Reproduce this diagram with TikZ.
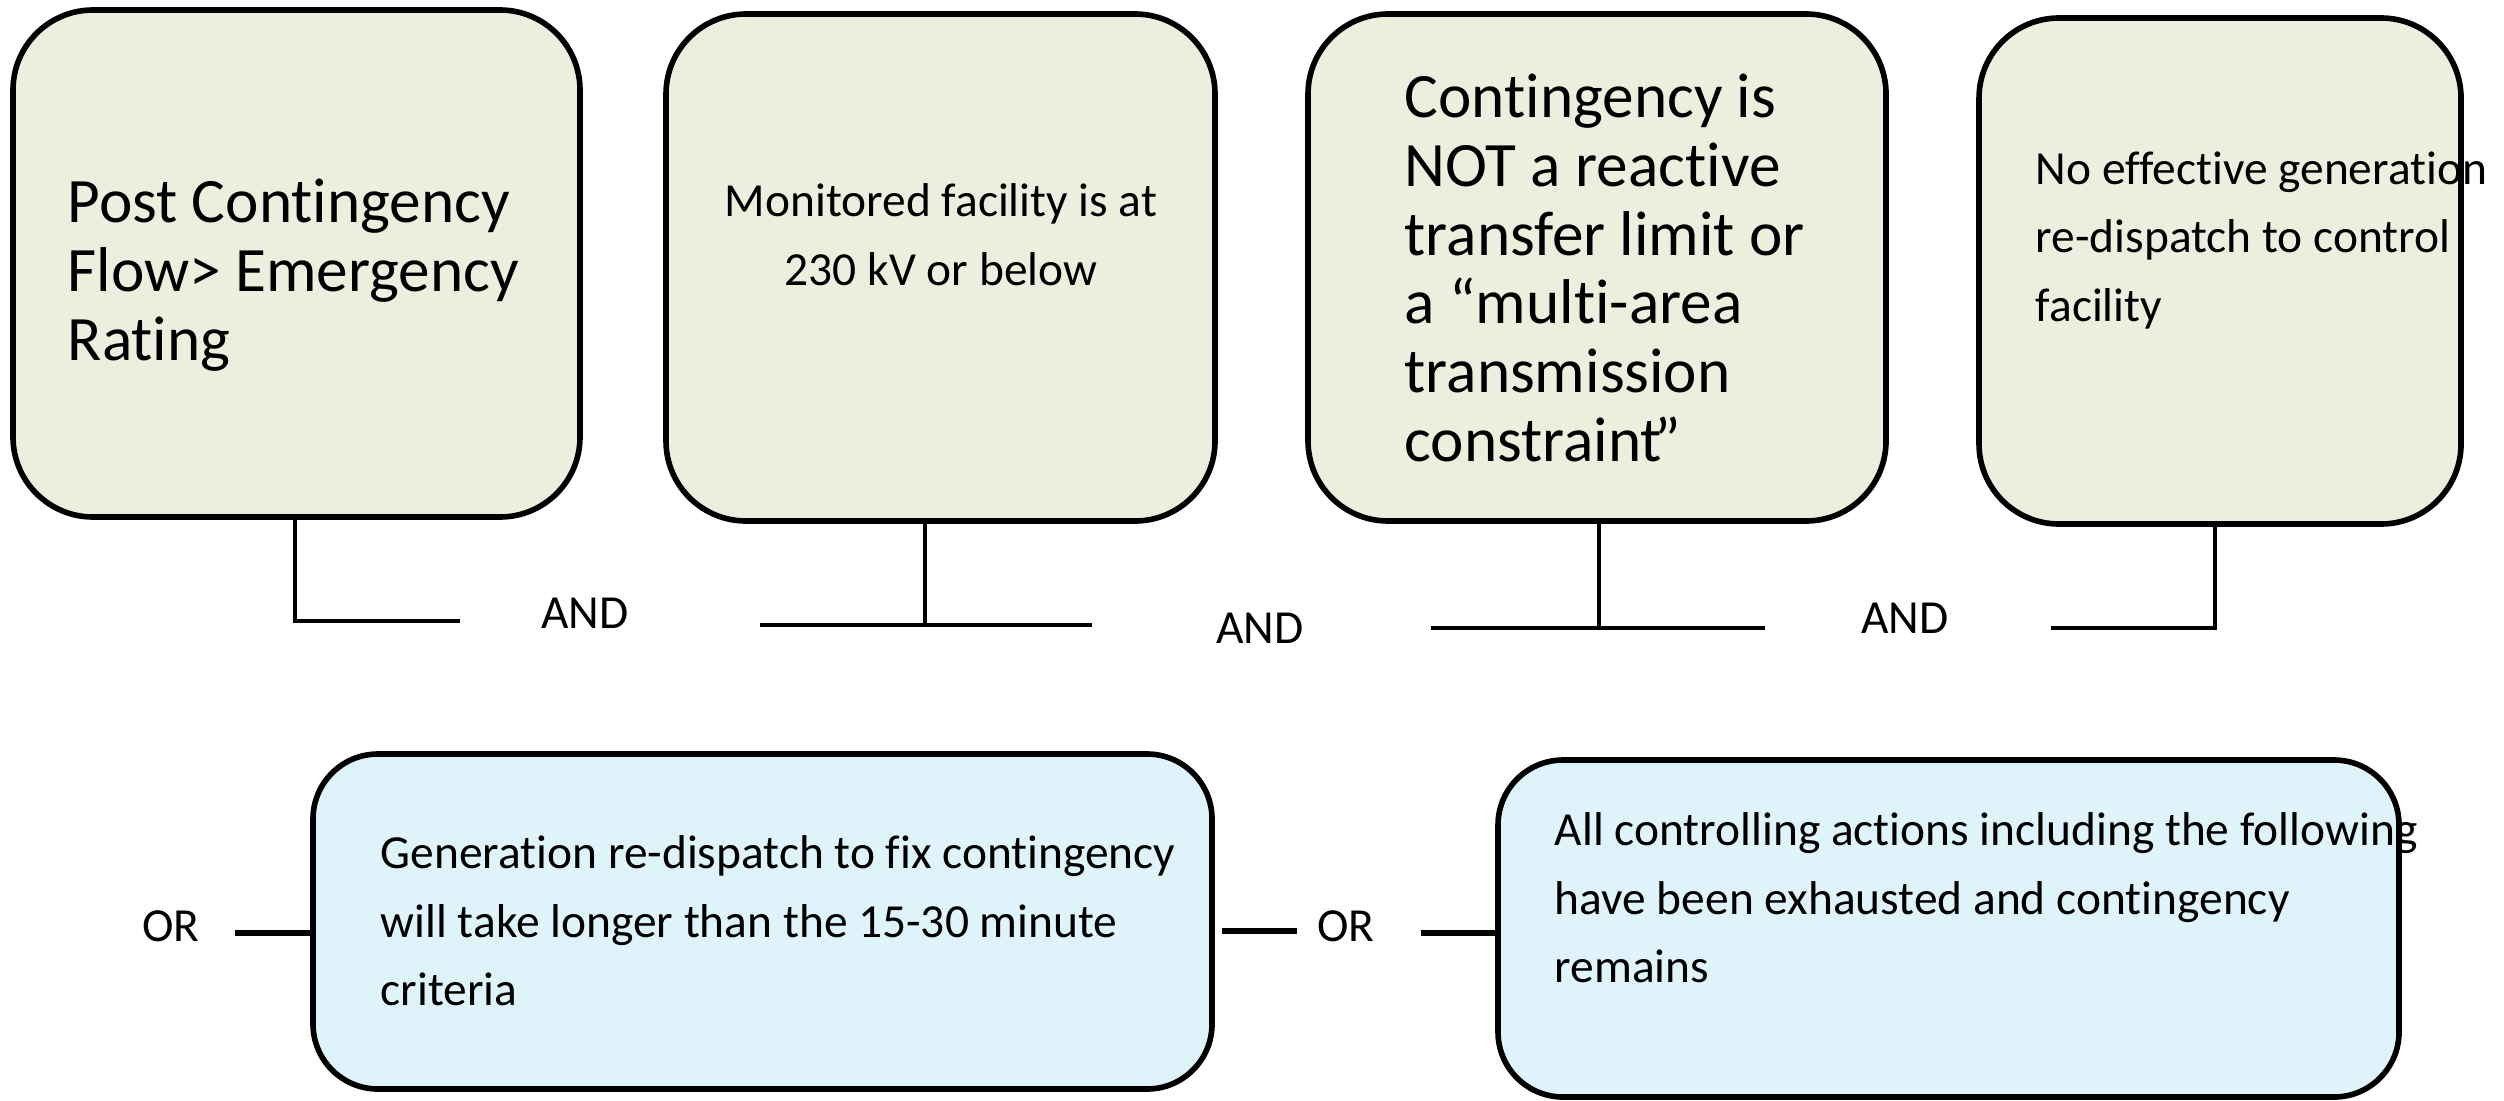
\documentclass[tikz,border=0pt]{standalone}
\usepackage{fontspec}
\setmainfont{Carlito}[Ligatures={TeX,NoCommon}, RawFeature={-calt;-clig;-liga}]
\usepackage{tikz}
\usetikzlibrary{positioning, calc}
\usepackage{xcolor}
\definecolor{condbg}{RGB}{235,240,222}
\definecolor{actbg}{RGB}{223,243,250}

\begin{document}
\begin{tikzpicture}[
        x=1cm, y=1cm,
        condbox/.style={draw, line width=1.6pt, rounded corners=0.8cm,
                        fill=condbg, inner sep=0pt},
        actbox/.style={draw, line width=1.6pt, rounded corners=0.65cm,
                       fill=actbg, inner sep=0pt},
        bigtxt/.style={inner sep=0pt, align=left, anchor=north west,
                       font=\fontsize{18}{19.6}\selectfont},
        smalltxt/.style={inner sep=0pt, align=left, anchor=north west,
                         font=\fontsize{13.5}{19.5}\selectfont},
        gate/.style={inner sep=0pt, font=\fontsize{13.5}{16}\selectfont},
        wire/.style={line width=1.2pt},
        orwire/.style={line width=1.5pt},
    ]

    \useasboundingbox (0,0) rectangle (25.04,-11.00);

    % ---------- Conditions (all must hold) --------------------------------
    \node[condbox, minimum width=5.67cm, minimum height=5.07cm] (flow)       at ( 2.965,-2.635) {};
    \node[condbox, minimum width=5.49cm, minimum height=5.07cm] (voltage)    at ( 9.405,-2.675) {};
    \node[condbox, minimum width=5.78cm, minimum height=5.07cm] (reactive)   at (15.970,-2.675) {};
    \node[condbox, minimum width=4.82cm, minimum height=5.06cm] (redispatch) at (22.200,-2.710) {};

    \node[bigtxt] (flowtxt) at (0.67,-1.78) {Post Contingency\\Flow> Emergency\\Rating};
    \node[smalltxt, anchor=north, align=center] (voltagetxt) at (9.41,-1.83)
        {Monitored facility is at\\230 kV or below};
    \node[bigtxt] (reactivetxt) at (14.04,-0.73)
        {Contingency is\\NOT a reactive\\transfer limit or\\a “multi-area\\transmission\\constraint\kern-0.12em”};
    \node[smalltxt] (redispatchtxt) at (20.35,-1.51)
        {No effective generation\\re-dispatch to control\\facility};

    % ---------- AND joins --------------------------------------------------
    \coordinate (j1)  at ( 2.95,-6.21);
    \coordinate (j1r) at ( 4.60,-6.21);
    \coordinate (j2l) at ( 7.60,-6.25);
    \coordinate (j2)  at ( 9.25,-6.25);
    \coordinate (j2r) at (10.92,-6.25);
    \coordinate (j3l) at (14.31,-6.28);
    \coordinate (j3)  at (15.99,-6.28);
    \coordinate (j3r) at (17.65,-6.28);
    \coordinate (j4l) at (20.51,-6.28);
    \coordinate (j4)  at (22.15,-6.28);

    \draw[wire] (flow.south -| j1) -- (j1) -- (j1r);
    \draw[wire] (voltage.south -| j2) -- (j2);
    \draw[wire] (j2l) -- (j2r);
    \draw[wire] (reactive.south -| j3) -- (j3);
    \draw[wire] (j3l) -- (j3r);
    \draw[wire] (redispatch.south -| j4) -- (j4) -- (j4l);

    \node[gate] (and1) at ( 5.85,-6.13) {AND};
    \node[gate] (and2) at (12.60,-6.28) {AND};
    \node[gate] (and3) at (19.05,-6.18) {AND};

    % ---------- Alternatives (either one) ---------------------------------
    \node[actbox, minimum width=8.99cm, minimum height=3.35cm] (timing)    at ( 7.625,-9.215) {};
    \node[actbox, minimum width=9.01cm, minimum height=3.37cm] (exhausted) at (19.485,-9.285) {};

    \node[smalltxt] (timingtxt) at (3.80,-8.35)
        {Generation re-dispatch to fix contingency\\will take longer than the 15-30 minute\\criteria};
    \node[smalltxt] (exhaustedtxt) at (15.54,-8.12)
        {All controlling actions including the following\\have been exhausted and contingency\\remains};

    \node[gate] (or1) at ( 1.71,-9.26) {OR};
    \node[gate] (or2) at (13.46,-9.26) {OR};

    \coordinate (o1)  at ( 2.35,-9.33);
    \coordinate (o2l) at (12.22,-9.31);
    \coordinate (o2r) at (12.97,-9.31);
    \coordinate (o3)  at (14.21,-9.33);

    \draw[orwire] (o1) -- (o1 -| timing.west);
    \draw[orwire] (o2l) -- (o2r);
    \draw[orwire] (o3) -- (o3 -| exhausted.west);

\end{tikzpicture}
\end{document}
